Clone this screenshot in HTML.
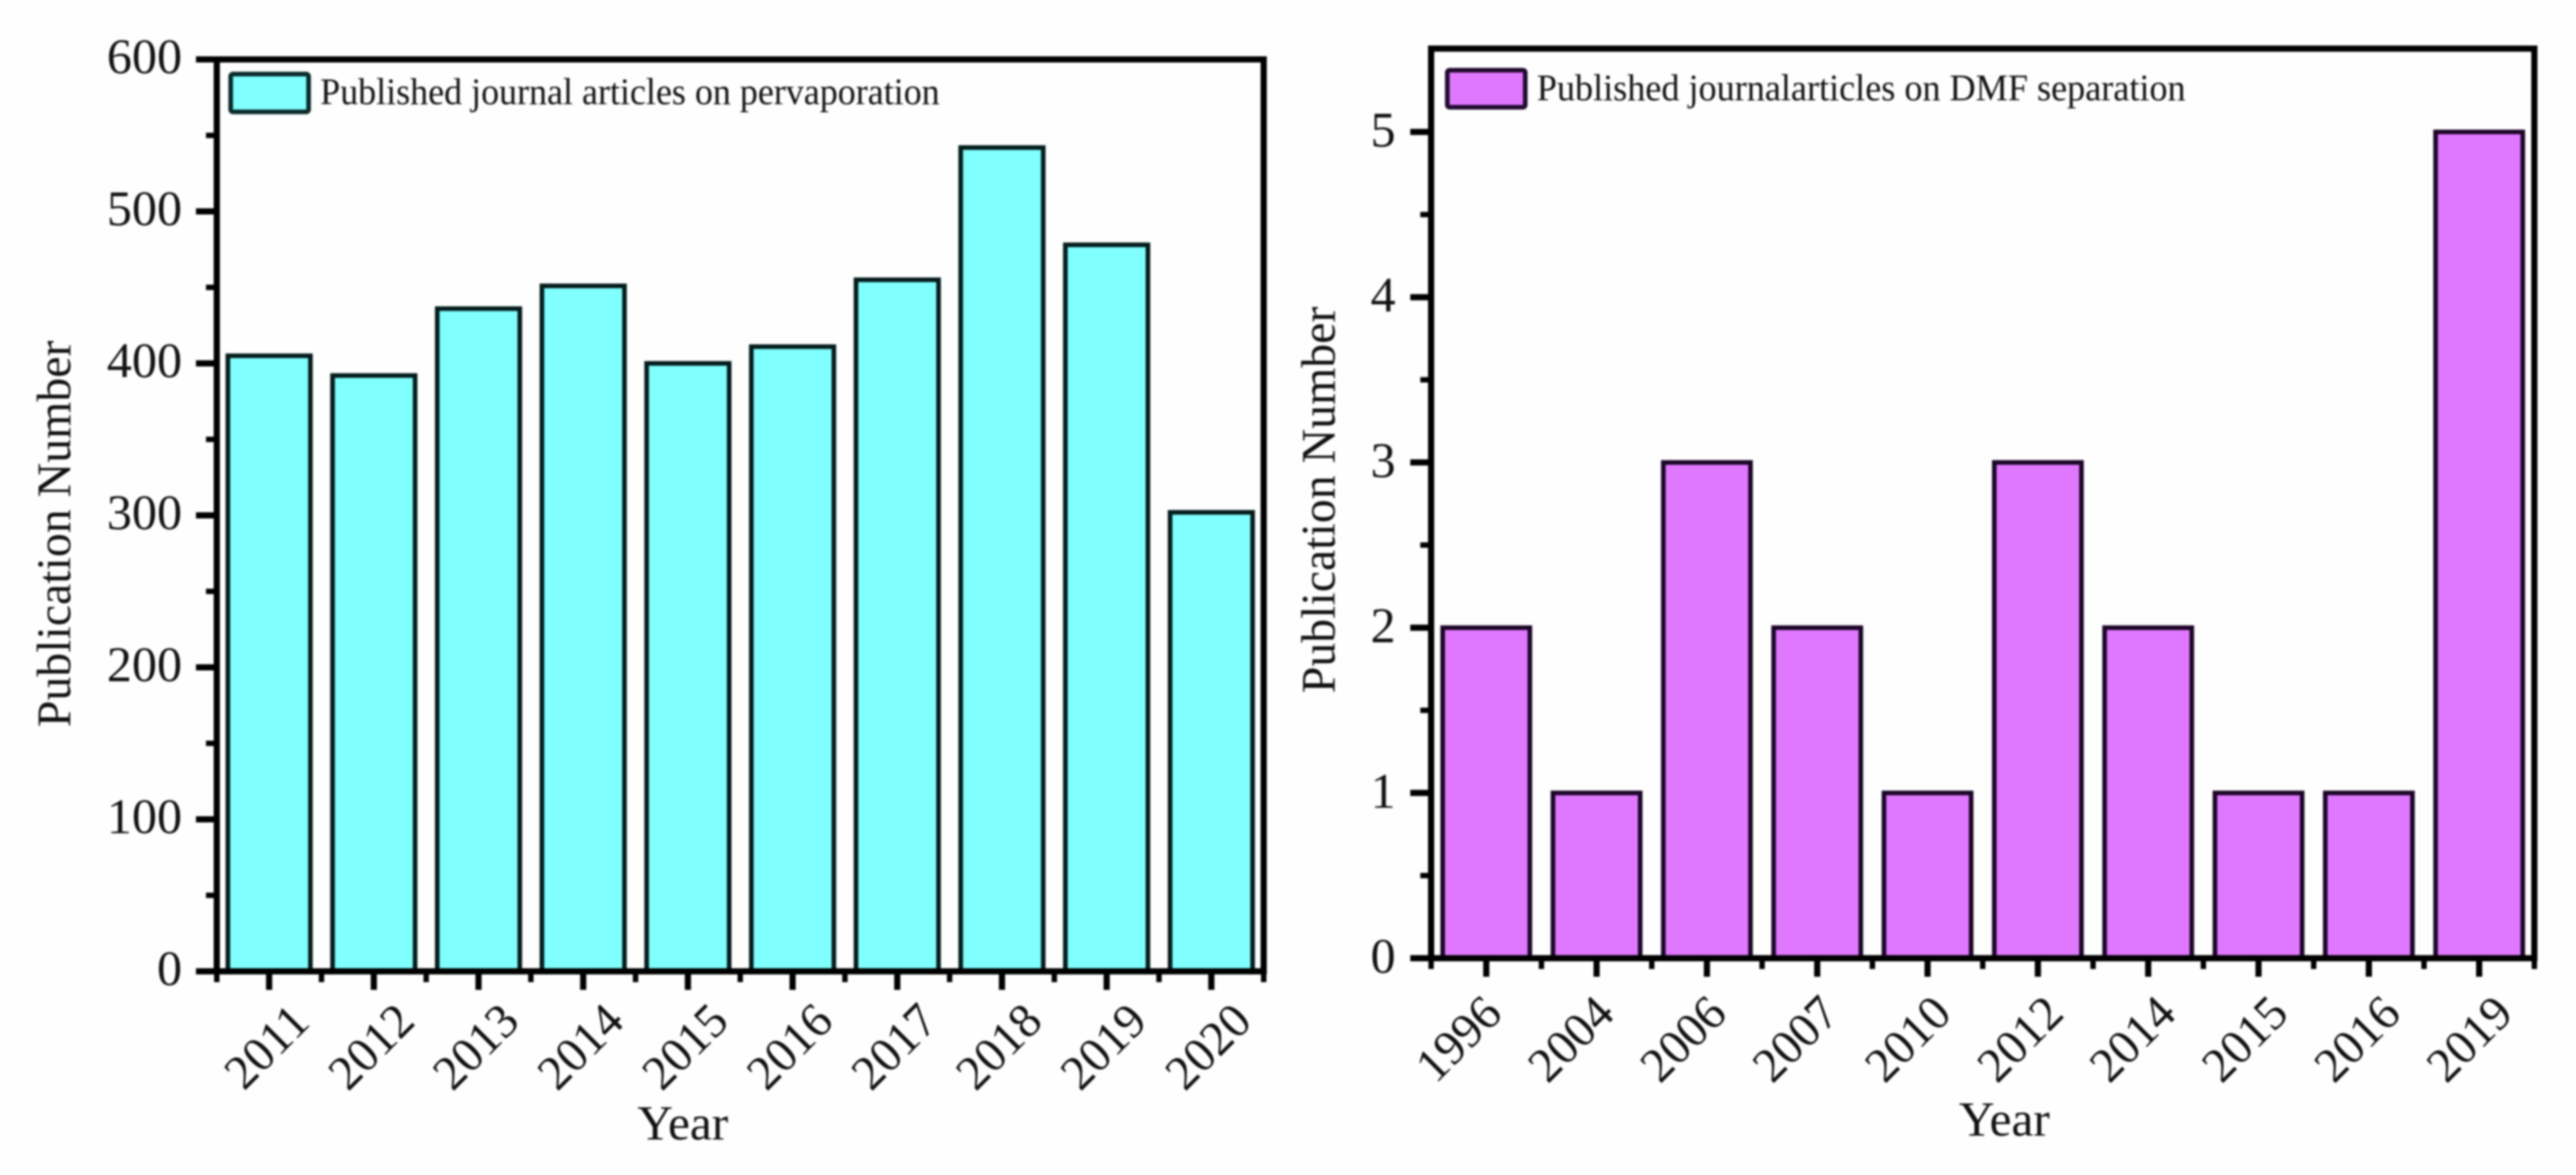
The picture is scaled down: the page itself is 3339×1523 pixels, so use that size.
<!DOCTYPE html>
<html lang="en">
<head>
<meta charset="utf-8">
<title>Published journal articles: pervaporation and DMF separation</title>
<style>
html,body{margin:0;padding:0;background:#fefefe;width:3339px;height:1523px;overflow:hidden}
svg{display:block;filter:blur(1.3px)}
text{font-family:"Liberation Serif",serif;fill:#111}
</style>
</head>
<body>
<svg id="figure" xmlns="http://www.w3.org/2000/svg" width="3339" height="1523" viewBox="0 0 3339 1523">
  <rect x="0" y="0" width="3339" height="1523" fill="#fefefe"/>
  <g id="left-chart"></g>
  <g id="right-chart"></g>

  <rect x="299" y="96" width="101" height="49" rx="3" fill="#80ffff" stroke="#0a2a2a" stroke-width="6"/>
  <text x="415" y="135" font-size="49" textLength="803" lengthAdjust="spacingAndGlyphs">Published journal articles on pervaporation</text>
  <text transform="translate(91 692) rotate(-90)" text-anchor="middle" font-size="62">Publication Number</text>
  <text x="885" y="1477" text-anchor="middle" font-size="64">Year</text>

  <rect x="1876" y="91" width="101" height="48" rx="3" fill="#e078ff" stroke="#200a30" stroke-width="6"/>
  <text x="1992" y="130" font-size="49" textLength="841" lengthAdjust="spacingAndGlyphs">Published journalarticles on DMF separation</text>
  <text transform="translate(1730 648) rotate(-90)" text-anchor="middle" font-size="62">Publication Number</text>
  <text x="2598" y="1472" text-anchor="middle" font-size="64">Year</text>
</svg>
<script>
const leftYears = ['2011','2012','2013','2014','2015','2016','2017','2018','2019','2020'];
const leftCounts = [405,392,436,451,400,411,455,542,478,302];
const leftYTicks = [0,100,200,300,400,500,600];
const rightYears = ['1996','2004','2006','2007','2010','2012','2014','2015','2016','2019'];
const rightCounts = [2,1,3,2,1,3,2,1,1,5];
const rightYTicks = [0,1,2,3,4,5];

const NS = 'http://www.w3.org/2000/svg';

function make(tag, attrs, parent) {
  const el = document.createElementNS(NS, tag);
  for (const k in attrs) el.setAttribute(k, attrs[k]);
  parent.appendChild(el);
  return el;
}

function drawChart(parent, cfg) {
  const yScale = v => cfg.bottom - (v - 0) * (cfg.bottom - cfg.zeroToMax) / cfg.yMax;
  const band = (cfg.right - cfg.left) / cfg.categories.length;
  const xScale = i => cfg.left + band * (i + 0.5);

  // bars
  cfg.values.forEach((v, i) => {
    const bar = make('rect', {
      x: xScale(i) - cfg.barWidth / 2,
      y: yScale(v),
      width: cfg.barWidth,
      height: cfg.bottom - yScale(v),
      fill: cfg.fill,
      stroke: cfg.barStroke,
      'stroke-width': 6
    }, parent);
    
    
  });

  // frame
  const frame = make('rect', {
    x: cfg.left, y: cfg.top,
    width: cfg.right - cfg.left, height: cfg.bottom - cfg.top,
    fill: 'none', stroke: '#000', 'stroke-width': 8
  }, parent);
  
  

  // y ticks and labels
  const step = cfg.yTicks[1] - cfg.yTicks[0];
  cfg.yTicks.forEach((t, i) => {
    const y = yScale(t);
    const tick = make('line', { x1: cfg.left - 27, x2: cfg.left, y1: y, y2: y, stroke: '#000', 'stroke-width': 8 }, parent);
    
    
    const label = make('text', { x: cfg.yLabelRight, y: y + cfg.yLabelDy, 'text-anchor': 'end', 'font-size': 65 }, parent);
    label.textContent = String(t);
    
    
    if (i < cfg.yTicks.length - 1 || cfg.yMax > t) {
      const ym = yScale(t + step / 2);
      const minor = make('line', { x1: cfg.left - 14, x2: cfg.left, y1: ym, y2: ym, stroke: '#000', 'stroke-width': 7 }, parent);
      
      
    }
  });

  // x ticks and labels
  cfg.categories.forEach((c, i) => {
    const x = xScale(i);
    const tick = make('line', { x1: x, x2: x, y1: cfg.bottom, y2: cfg.bottom + 24, stroke: '#000', 'stroke-width': 8 }, parent);
    
    
    const lx = cfg.labelStart + cfg.labelStep * i;
    const label = make('text', {
      transform: 'translate(' + lx + ' ' + cfg.labelY + ') rotate(-45)',
      y: 20, 'text-anchor': 'middle', 'font-size': 63
    }, parent);
    label.textContent = c;
    
    
  });
  for (let i = 0; i <= cfg.categories.length; i++) {
    const x = cfg.left + band * i;
    const minor = make('line', { x1: x, x2: x, y1: cfg.bottom, y2: cfg.bottom + 14, stroke: '#000', 'stroke-width': 7 }, parent);
    
    
  }
}

drawChart(document.getElementById('left-chart'), {
  categories: leftYears, values: leftCounts, yTicks: leftYTicks, yMax: 600,
  left: 281, right: 1638, top: 77, bottom: 1259, zeroToMax: 77,
  barWidth: 107, fill: '#80ffff', barStroke: '#051c1c',
  yLabelRight: 236, yLabelDy: 18,
  labelStart: 346, labelStep: 135.6, labelY: 1357
});

drawChart(document.getElementById('right-chart'), {
  categories: rightYears, values: rightCounts, yTicks: rightYTicks, yMax: 5,
  left: 1855, right: 3285, top: 63, bottom: 1242, zeroToMax: 171,
  barWidth: 113, fill: '#e078ff', barStroke: '#1c0628',
  yLabelRight: 1809, yLabelDy: 19,
  labelStart: 1891, labelStep: 145.6, labelY: 1347
});
</script>
</body>
</html>
